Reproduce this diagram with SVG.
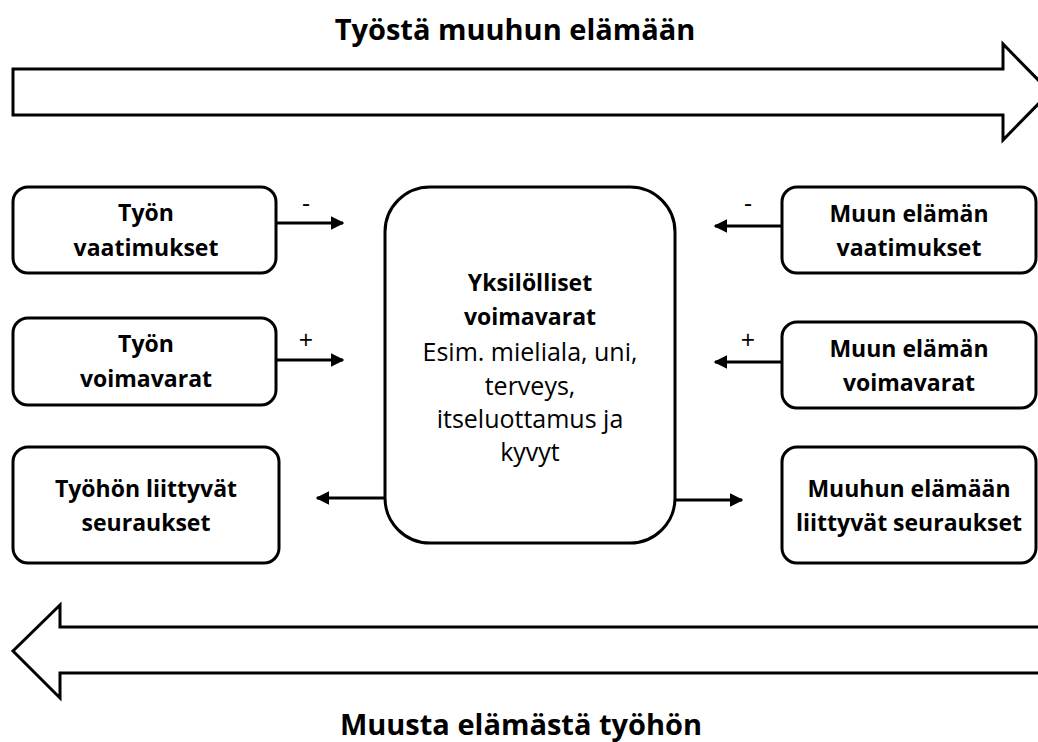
<svg xmlns="http://www.w3.org/2000/svg" width="1038" height="742" viewBox="0 0 1038 742">
  <defs>
    <style>
      .box { fill: #fff; stroke: #000; stroke-width: 3; }
      .big { fill: #fff; stroke: #000; stroke-width: 3; stroke-linejoin: miter; }
      .lbl { font-family: "Open Sans", "Noto Sans", sans-serif; font-weight: bold; font-size: 23px; text-anchor: middle; fill: #000; }
      .reg { font-family: "Open Sans", "Noto Sans", sans-serif; font-size: 25px; text-anchor: middle; fill: #000; }
      .title { font-family: "Open Sans", "Noto Sans", sans-serif; font-weight: bold; font-size: 29px; text-anchor: middle; fill: #000; }
      .sign { font-family: "Open Sans", "Noto Sans", sans-serif; font-size: 25px; text-anchor: middle; fill: #000; }
      .conn { fill: none; stroke: #000; stroke-width: 3; marker-end: url(#head); }
    </style>
    <marker id="head" viewBox="0 0 10 10" refX="9" refY="5" markerWidth="4.5" markerHeight="4.5" markerUnits="strokeWidth" orient="auto">
      <path d="M0,0 L10,5 L0,10 Z" fill="#000"/>
    </marker>
  </defs>

  <!-- direction bands -->
  <g id="band-top">
    <text class="title" x="515" y="40">Työstä muuhun elämään</text>
    <polygon class="big" points="13,69 1003,69 1003,44 1050,92 1003,140 1003,115 13,115"/>
  </g>
  <g id="band-bottom">
    <polygon class="big" points="1045,627 60,627 60,605 13,651 60,698 60,673 1045,673"/>
    <text class="title" x="521" y="735">Muusta elämästä työhön</text>
  </g>

  <!-- left column -->
  <g id="tyon-vaatimukset">
    <rect class="box" x="13" y="187" width="263" height="86" rx="15"/>
    <text class="lbl" x="146" y="221">Työn</text>
    <text class="lbl" x="146" y="256">vaatimukset</text>
  </g>
  <g id="tyon-voimavarat">
    <rect class="box" x="13" y="318" width="263" height="87" rx="15"/>
    <text class="lbl" x="146" y="352">Työn</text>
    <text class="lbl" x="146" y="387">voimavarat</text>
  </g>
  <g id="tyon-seuraukset">
    <rect class="box" x="13" y="447" width="266" height="116" rx="15"/>
    <text class="lbl" x="146" y="497">Työhön liittyvät</text>
    <text class="lbl" x="146" y="531">seuraukset</text>
  </g>

  <!-- centre -->
  <g id="yksilolliset">
    <rect class="box" x="385" y="187" width="290" height="356" rx="45"/>
    <text class="lbl" x="530" y="291">Yksilölliset</text>
    <text class="lbl" x="530" y="325">voimavarat</text>
    <text class="reg" x="530" y="361">Esim. mieliala, uni,</text>
    <text class="reg" x="530" y="395">terveys,</text>
    <text class="reg" x="530" y="428">itseluottamus ja</text>
    <text class="reg" x="530" y="461">kyvyt</text>
  </g>

  <!-- right column -->
  <g id="muun-vaatimukset">
    <rect class="box" x="782" y="187" width="254" height="86" rx="15"/>
    <text class="lbl" x="909" y="222">Muun elämän</text>
    <text class="lbl" x="909" y="256">vaatimukset</text>
  </g>
  <g id="muun-voimavarat">
    <rect class="box" x="782" y="322" width="254" height="86" rx="15"/>
    <text class="lbl" x="909" y="357">Muun elämän</text>
    <text class="lbl" x="909" y="391">voimavarat</text>
  </g>
  <g id="muun-seuraukset">
    <rect class="box" x="782" y="447" width="254" height="116" rx="15"/>
    <text class="lbl" x="909" y="497">Muuhun elämään</text>
    <text class="lbl" x="909" y="531">liittyvät seuraukset</text>
  </g>

  <!-- connectors -->
  <g id="connectors">
    <line class="conn" x1="276" y1="223" x2="343" y2="223"/>
    <line class="conn" x1="276" y1="360" x2="343" y2="360"/>
    <line class="conn" x1="782" y1="226" x2="715" y2="226"/>
    <line class="conn" x1="782" y1="362" x2="715" y2="362"/>
    <line class="conn" x1="385" y1="498" x2="317" y2="498"/>
    <line class="conn" x1="675" y1="500" x2="742" y2="500"/>
    <text class="sign" x="306" y="212">-</text>
    <text class="sign" x="306" y="349">+</text>
    <text class="sign" x="748" y="212">-</text>
    <text class="sign" x="748" y="349">+</text>
  </g>
</svg>
